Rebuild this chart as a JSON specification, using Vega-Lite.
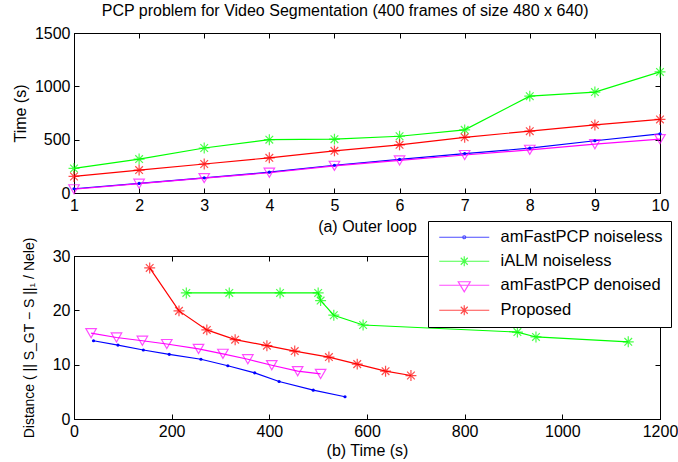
{
  "$schema": "https://vega.github.io/schema/vega-lite/v6.json",
  "padding": {"left": 11, "top": 2, "right": 0, "bottom": 2},
  "background": "white",
  "title": {"text": "PCP problem for Video Segmentation (400 frames of size 480 x 640)", "font": "Liberation Sans", "fontSize": 16, "fontWeight": "normal", "color": "black", "offset": 6, "anchor": "middle"},
  "config": {
    "font": "Liberation Sans",
    "view": {"stroke": "black", "strokeWidth": 1},
    "axis": {"grid": false, "domainColor": "black", "tickColor": "black", "tickSize": -5, "labelPadding": 9, "labelFontSize": 16, "labelColor": "black", "titleFontSize": 16, "titleFontWeight": "normal", "titleColor": "black", "labelFont": "Liberation Sans", "titleFont": "Liberation Sans", "labelFlush": false, "labelOverlap": false, "format": "d"},
    "line": {"strokeWidth": 1.2}
  },
  "resolve": {"legend": {"color": "independent", "shape": "independent"}},
  "datasets": {
    "pts": [
      {"series": "amFastPCP noiseless", "loop": 1, "time": 40, "dist": 14.4},
      {"series": "amFastPCP noiseless", "loop": 2, "time": 90, "dist": 13.6},
      {"series": "amFastPCP noiseless", "loop": 3, "time": 142, "dist": 12.7},
      {"series": "amFastPCP noiseless", "loop": 4, "time": 195, "dist": 11.9},
      {"series": "amFastPCP noiseless", "loop": 5, "time": 260, "dist": 11.0},
      {"series": "amFastPCP noiseless", "loop": 6, "time": 315, "dist": 9.8},
      {"series": "amFastPCP noiseless", "loop": 7, "time": 370, "dist": 8.5},
      {"series": "amFastPCP noiseless", "loop": 8, "time": 420, "dist": 6.9},
      {"series": "amFastPCP noiseless", "loop": 9, "time": 490, "dist": 5.3},
      {"series": "amFastPCP noiseless", "loop": 10, "time": 555, "dist": 4.1},
      {"series": "iALM noiseless", "loop": 1, "time": 230, "dist": 23.2},
      {"series": "iALM noiseless", "loop": 2, "time": 318, "dist": 23.2},
      {"series": "iALM noiseless", "loop": 3, "time": 422, "dist": 23.2},
      {"series": "iALM noiseless", "loop": 4, "time": 500, "dist": 23.2},
      {"series": "iALM noiseless", "loop": 5, "time": 505, "dist": 21.8},
      {"series": "iALM noiseless", "loop": 6, "time": 532, "dist": 19.1},
      {"series": "iALM noiseless", "loop": 7, "time": 592, "dist": 17.3},
      {"series": "iALM noiseless", "loop": 8, "time": 908, "dist": 16.0},
      {"series": "iALM noiseless", "loop": 9, "time": 946, "dist": 15.1},
      {"series": "iALM noiseless", "loop": 10, "time": 1135, "dist": 14.2},
      {"series": "amFastPCP denoised", "loop": 1, "time": 35, "dist": 15.8},
      {"series": "amFastPCP denoised", "loop": 2, "time": 87, "dist": 15.0},
      {"series": "amFastPCP denoised", "loop": 3, "time": 140, "dist": 14.4},
      {"series": "amFastPCP denoised", "loop": 4, "time": 190, "dist": 13.8},
      {"series": "amFastPCP denoised", "loop": 5, "time": 255, "dist": 12.9},
      {"series": "amFastPCP denoised", "loop": 6, "time": 305, "dist": 12.0},
      {"series": "amFastPCP denoised", "loop": 7, "time": 356, "dist": 11.0},
      {"series": "amFastPCP denoised", "loop": 8, "time": 405, "dist": 9.9},
      {"series": "amFastPCP denoised", "loop": 9, "time": 458, "dist": 8.8},
      {"series": "amFastPCP denoised", "loop": 10, "time": 505, "dist": 8.3},
      {"series": "Proposed", "loop": 1, "time": 155, "dist": 27.8},
      {"series": "Proposed", "loop": 2, "time": 215, "dist": 19.9},
      {"series": "Proposed", "loop": 3, "time": 272, "dist": 16.4},
      {"series": "Proposed", "loop": 4, "time": 330, "dist": 14.6},
      {"series": "Proposed", "loop": 5, "time": 395, "dist": 13.5},
      {"series": "Proposed", "loop": 6, "time": 452, "dist": 12.5},
      {"series": "Proposed", "loop": 7, "time": 522, "dist": 11.4},
      {"series": "Proposed", "loop": 8, "time": 580, "dist": 10.1},
      {"series": "Proposed", "loop": 9, "time": 638, "dist": 8.8},
      {"series": "Proposed", "loop": 10, "time": 690, "dist": 8.0}
    ]
  },
  "vconcat": [
    {
      "width": 586,
      "height": 160,
      "data": {"name": "pts"},
      "encoding": {
        "color": {"field": "series", "type": "nominal", "scale": {"domain": ["amFastPCP noiseless", "iALM noiseless", "amFastPCP denoised", "Proposed"], "range": ["#0000ff", "#00ff00", "#ff00ff", "#ff0000"]}, "legend": null}
      },
      "layer": [
        {
          "mark": {"type": "line", "clip": true},
          "encoding": {
            "x": {"field": "loop", "type": "quantitative", "scale": {"domain": [1, 10], "nice": false}, "axis": {"values": [1,2,3,4,5,6,7,8,9,10], "title": "(a) Outer loop", "titlePadding": 5}},
            "y": {"field": "time", "type": "quantitative", "scale": {"domain": [0, 1500], "nice": false}, "axis": {"values": [0, 500, 1000, 1500], "title": "Time (s)", "titlePadding": 6}}
          }
        },
        {
          "transform": [{"filter": "datum.series == 'iALM noiseless' || datum.series == 'Proposed'"}],
          "mark": {"type": "point", "filled": false, "strokeWidth": 1.2, "size": 120, "shape": "M-1,0H1M0,-1V1M-0.7,-0.7L0.7,0.7M-0.7,0.7L0.7,-0.7"},
          "encoding": {
            "x": {"field": "loop", "type": "quantitative", "axis": {"orient": "top", "values": [1,2,3,4,5,6,7,8,9,10], "labels": false, "title": null}},
            "y": {"field": "time", "type": "quantitative", "axis": {"orient": "right", "values": [0, 500, 1000, 1500], "labels": false, "title": null}}
          }
        },
        {
          "transform": [{"filter": "datum.series == 'amFastPCP denoised'"}],
          "mark": {"type": "point", "filled": false, "strokeWidth": 1.2, "size": 110, "shape": "triangle-down"},
          "encoding": {
            "x": {"field": "loop", "type": "quantitative", "axis": null},
            "y": {"field": "time", "type": "quantitative", "axis": null}
          }
        },
        {
          "transform": [{"filter": "datum.series == 'amFastPCP noiseless'"}],
          "mark": {"type": "point", "filled": true, "opacity": 1, "size": 10, "shape": "circle"},
          "encoding": {
            "x": {"field": "loop", "type": "quantitative", "axis": null},
            "y": {"field": "time", "type": "quantitative", "axis": null}
          }
        }
      ],
      "resolve": {"axis": {"x": "independent", "y": "independent"}}
    },
    {
      "width": 586,
      "height": 163,
      "data": {"name": "pts"},
      "encoding": {
        "color": {"field": "series", "type": "nominal", "scale": {"domain": ["amFastPCP noiseless", "iALM noiseless", "amFastPCP denoised", "Proposed"], "range": ["#0000ff", "#00ff00", "#ff00ff", "#ff0000"]}, "legend": null}
      },
      "layer": [
        {
          "mark": {"type": "line", "clip": true},
          "encoding": {
            "x": {"field": "time", "type": "quantitative", "scale": {"domain": [0, 1200], "nice": false}, "axis": {"values": [0,200,400,600,800,1000,1200], "title": "(b) Time (s)", "titlePadding": 3}},
            "y": {"field": "dist", "type": "quantitative", "scale": {"domain": [0, 30], "nice": false}, "axis": {"values": [0, 10, 20, 30], "title": "Distance ( || S_GT − S ||₁ / Nele)", "titlePadding": 16, "titleFontSize": 14}}
          }
        },
        {
          "transform": [{"filter": "datum.series == 'iALM noiseless' || datum.series == 'Proposed'"}],
          "mark": {"type": "point", "filled": false, "strokeWidth": 1.2, "size": 120, "shape": "M-1,0H1M0,-1V1M-0.7,-0.7L0.7,0.7M-0.7,0.7L0.7,-0.7"},
          "encoding": {
            "x": {"field": "time", "type": "quantitative", "axis": {"orient": "top", "values": [0,200,400,600,800,1000,1200], "labels": false, "title": null}},
            "y": {"field": "dist", "type": "quantitative", "axis": {"orient": "right", "values": [0, 10, 20, 30], "labels": false, "title": null}}
          }
        },
        {
          "transform": [{"filter": "datum.series == 'amFastPCP denoised'"}],
          "mark": {"type": "point", "filled": false, "strokeWidth": 1.2, "size": 110, "shape": "triangle-down"},
          "encoding": {
            "x": {"field": "time", "type": "quantitative", "axis": null},
            "y": {"field": "dist", "type": "quantitative", "axis": null}
          }
        },
        {
          "transform": [{"filter": "datum.series == 'amFastPCP noiseless'"}],
          "mark": {"type": "point", "filled": true, "opacity": 1, "size": 10, "shape": "circle"},
          "encoding": {
            "x": {"field": "time", "type": "quantitative", "axis": null},
            "y": {"field": "dist", "type": "quantitative", "axis": null}
          }
        },
        {
          "transform": [{"filter": "false"}],
          "mark": {"type": "point", "filled": false, "strokeWidth": 1.2, "size": 100},
          "encoding": {
            "x": {"field": "time", "type": "quantitative", "axis": null},
            "y": {"field": "dist", "type": "quantitative", "axis": null},
            "color": {"field": "series", "type": "nominal",
              "legend": {
                "orient": "none", "legendX": 354, "legendY": -35, "title": null,
                "fillColor": "white", "strokeColor": "black", "padding": 8,
                "labelFontSize": 16.5, "labelColor": "black", "labelFont": "Liberation Sans", "labelLimit": 400,
                "symbolSize": 100, "symbolStrokeWidth": 1.2, "labelOffset": 48, "rowPadding": 7
              }
            },
            "shape": {"field": "series", "type": "nominal",
              "scale": {"domain": ["amFastPCP noiseless", "iALM noiseless", "amFastPCP denoised", "Proposed"],
                "range": ["M-1,0H9M3.7,0A0.3,0.3 0 1,0 4.3,0A0.3,0.3 0 1,0 3.7,0", "M-1,0H9M3,0H5M4,-1V1M3.3,-0.7L4.7,0.7M3.3,0.7L4.7,-0.7", "M-1,0H9M2.8,-0.7L5.2,-0.7L4,1.3Z", "M-1,0H9M3,0H5M4,-1V1M3.3,-0.7L4.7,0.7M3.3,0.7L4.7,-0.7"]},
              "legend": {
                "orient": "none", "legendX": 354, "legendY": -35, "title": null,
                "fillColor": "white", "strokeColor": "black", "padding": 8,
                "labelFontSize": 16.5, "labelColor": "black", "labelFont": "Liberation Sans", "labelLimit": 400,
                "symbolSize": 100, "symbolStrokeWidth": 1.2, "labelOffset": 48, "rowPadding": 7
              }
            }
          }
        }
      ],
      "resolve": {"axis": {"x": "independent", "y": "independent"}, "legend": {"color": "independent", "shape": "independent"}}
    }
  ],
  "spacing": -15
}
